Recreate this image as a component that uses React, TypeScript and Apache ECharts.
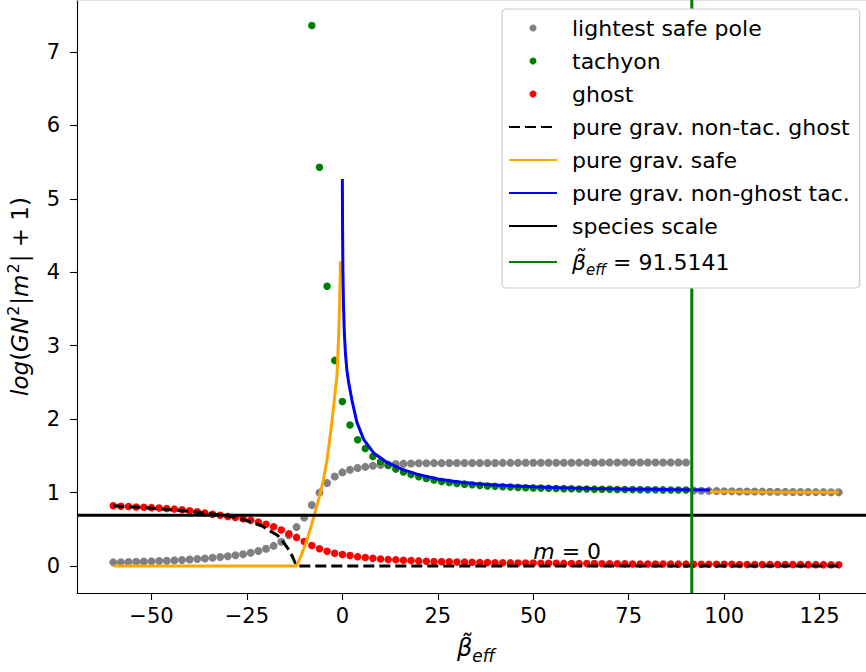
import { useEffect, useRef } from "react";
import * as echarts from "echarts";

// Axis extents and ticks
const X_MIN = -69.5;
const X_MAX = 139.5;
const Y_MIN = -0.367;
const Y_MAX = 7.707;
const xTicks = [-50, -25, 0, 25, 50, 75, 100, 125];
const yTicks = [0, 1, 2, 3, 4, 5, 6, 7];

const betaEff = 91.5141;
const speciesScale = 0.693;
const mZeroAt = [50, 0.1];

// lightest safe pole (gray dots)
const safePole = [
  [-60, 0.05], [-58, 0.052], [-56, 0.055], [-54, 0.058], [-52, 0.061], [-50, 0.064],
  [-48, 0.068], [-46, 0.072], [-44, 0.077], [-42, 0.082], [-40, 0.088], [-38, 0.095],
  [-36, 0.103], [-34, 0.112], [-32, 0.122], [-30, 0.133], [-28, 0.146], [-26, 0.161],
  [-24, 0.18], [-22, 0.205], [-20, 0.235], [-18, 0.275], [-16, 0.33], [-14, 0.42],
  [-12, 0.53], [-10, 0.66], [-8, 0.83], [-6, 1.0], [-4, 1.13], [-2, 1.22],
  [0, 1.275], [2, 1.31], [4, 1.335], [6, 1.35], [8, 1.365], [10, 1.375],
  [12, 1.383], [14, 1.39], [16, 1.394], [18, 1.397], [20, 1.4], [22, 1.4],
  [24, 1.401], [26, 1.401], [28, 1.402], [30, 1.402], [32, 1.403], [34, 1.403],
  [36, 1.404], [38, 1.404], [40, 1.404], [42, 1.405], [44, 1.405], [46, 1.405],
  [48, 1.406], [50, 1.406], [52, 1.406], [54, 1.407], [56, 1.407], [58, 1.407],
  [60, 1.407], [62, 1.408], [64, 1.408], [66, 1.408], [68, 1.408], [70, 1.409],
  [72, 1.409], [74, 1.409], [76, 1.409], [78, 1.409], [80, 1.41], [82, 1.41],
  [84, 1.41], [86, 1.41], [88, 1.41], [90, 1.41],
  [92, 1.028], [94, 1.025], [96, 1.023], [98, 1.021], [100, 1.019], [102, 1.018],
  [104, 1.016], [106, 1.015], [108, 1.014], [110, 1.013], [112, 1.012], [114, 1.011],
  [116, 1.01], [118, 1.009], [120, 1.008], [122, 1.007], [124, 1.006], [126, 1.006],
  [128, 1.005], [130, 1.004],
];

// tachyon (green dots)
const tachyon = [
  [-8, 7.36], [-6, 5.43], [-4, 3.81], [-2, 2.8], [0, 2.24], [2, 1.92], [4, 1.72],
  [6, 1.6], [8, 1.49], [10, 1.42], [12, 1.37], [14, 1.32], [16, 1.28], [18, 1.245],
  [20, 1.215], [22, 1.192], [24, 1.17], [26, 1.152], [28, 1.137], [30, 1.125],
  [32, 1.115], [34, 1.106], [36, 1.098], [38, 1.091], [40, 1.085], [42, 1.08],
  [44, 1.075], [46, 1.071], [48, 1.067], [50, 1.064], [52, 1.061], [54, 1.058],
  [56, 1.056], [58, 1.054], [60, 1.052], [62, 1.05], [64, 1.048], [66, 1.047],
  [68, 1.045], [70, 1.044], [72, 1.043], [74, 1.042], [76, 1.041], [78, 1.04],
  [80, 1.039], [82, 1.038], [84, 1.037], [86, 1.036], [88, 1.036], [90, 1.035],
];

// ghost (red dots)
const ghost = [
  [-60, 0.82], [-58, 0.815], [-56, 0.81], [-54, 0.805], [-52, 0.8], [-50, 0.795],
  [-48, 0.79], [-46, 0.783], [-44, 0.775], [-42, 0.765], [-40, 0.752], [-38, 0.738],
  [-36, 0.722], [-34, 0.706], [-32, 0.69], [-30, 0.675], [-28, 0.66], [-26, 0.643],
  [-24, 0.622], [-22, 0.598], [-20, 0.57], [-18, 0.535], [-16, 0.49], [-14, 0.44],
  [-12, 0.39], [-10, 0.335], [-8, 0.28], [-6, 0.235], [-4, 0.2], [-2, 0.175],
  [0, 0.157], [2, 0.143], [4, 0.128], [6, 0.117], [8, 0.105], [10, 0.097],
  [12, 0.09], [14, 0.085], [16, 0.08], [18, 0.074], [20, 0.07], [22, 0.066],
  [24, 0.063], [26, 0.06], [28, 0.057], [30, 0.055], [32, 0.053], [34, 0.051],
  [36, 0.049], [38, 0.047], [40, 0.046], [42, 0.044], [44, 0.043], [46, 0.042],
  [48, 0.041], [50, 0.04], [52, 0.039], [54, 0.038], [56, 0.037], [58, 0.036],
  [60, 0.035], [62, 0.034], [64, 0.033], [66, 0.033], [68, 0.032], [70, 0.031],
  [72, 0.031], [74, 0.03], [76, 0.029], [78, 0.029], [80, 0.028], [82, 0.028],
  [84, 0.027], [86, 0.027], [88, 0.026], [90, 0.026], [92, 0.025], [94, 0.025],
  [96, 0.024], [98, 0.024], [100, 0.023], [102, 0.023], [104, 0.022], [106, 0.022],
  [108, 0.022], [110, 0.021], [112, 0.021], [114, 0.021], [116, 0.02], [118, 0.02],
  [120, 0.02], [122, 0.019], [124, 0.019], [126, 0.019], [128, 0.018], [130, 0.018],
];

// pure grav. non-tac. ghost (dashed black)
const pureGhost = [
  [-60, 0.82], [-55, 0.805], [-50, 0.787], [-45, 0.765], [-40, 0.745], [-35, 0.715],
  [-30, 0.68], [-27, 0.65], [-24, 0.6], [-21, 0.545], [-19, 0.48], [-17, 0.42],
  [-15.5, 0.33], [-14, 0.22], [-13, 0.12], [-12, 0], [130, 0],
];

// pure grav. safe (orange), two branches
const pureSafeLeft = [
  [-60, 0], [-12, 0], [-11, 0.12], [-10, 0.25], [-9, 0.4], [-8, 0.57], [-7, 0.76],
  [-6, 0.95], [-5, 1.16], [-4, 1.45], [-3, 1.85], [-2.3, 2.17], [-1.4, 2.6],
  [-1, 3.1], [-0.7, 3.6], [-0.5, 4.15],
];
const pureSafeRight = [
  [96.3, 1.012], [100, 1.011], [110, 1.008], [120, 1.006], [130, 1.004],
];

// pure grav. non-ghost tac. (blue)
const pureTac = [
  [0, 5.27], [0.05, 4.6], [0.15, 4.0], [0.3, 3.55], [0.5, 3.2], [0.8, 2.9],
  [1.2, 2.66], [1.65, 2.5], [2.5, 2.26], [3.8, 1.96], [5.6, 1.72], [8.2, 1.54],
  [11.7, 1.41], [16, 1.31], [20, 1.245], [25, 1.185], [30, 1.148], [35, 1.122],
  [40, 1.103], [45, 1.089], [50, 1.078], [55, 1.069], [60, 1.062], [65, 1.056],
  [70, 1.051], [75, 1.047], [80, 1.044], [85, 1.041], [90, 1.039], [96.3, 1.036],
];

const FONT = "DejaVu Sans";
const betaName = "beta_eff";
const legendNames = [
  "lightest safe pole",
  "tachyon",
  "ghost",
  "pure grav. non-tac. ghost",
  "pure grav. safe",
  "pure grav. non-ghost tac.",
  "species scale",
];

export default function App() {
  const ref = useRef<HTMLDivElement>(null);

  useEffect(() => {
    const chart = echarts.init(ref.current!, null, { renderer: "svg" });
    const lineSeries = (name: string, data: number[][], color: string, type: any = "solid") => ({
      name,
      type: "line",
      data,
      symbol: "none",
      silent: true,
      lineStyle: { color, width: 3, type },
      itemStyle: { color, opacity: 0 },
      emphasis: { disabled: true },
    });
    const scatter = (name: string, data: number[][], color: string, size: number) => ({
      name,
      type: "scatter",
      data,
      symbolSize: size,
      silent: true,
      itemStyle: { color, opacity: 1 },
      emphasis: { disabled: true },
    });
    const legendText = {
      fontSize: 22,
      color: "#000",
      fontFamily: FONT,
      padding: [0, 0, 0, 10],
      rich: {
        b: { fontSize: 22, fontStyle: "italic", fontFamily: FONT, lineHeight: 30, color: "#000" },
        s: { fontSize: 15, fontStyle: "italic", fontFamily: FONT, lineHeight: 15, verticalAlign: "bottom", color: "#000" },
        n: { fontSize: 22, fontFamily: FONT, lineHeight: 30, color: "#000" },
      },
    };
    const plainRich = (italic: boolean) => ({
      fontSize: 22,
      fontStyle: italic ? "italic" : "normal",
      fontFamily: FONT,
      color: "#000",
      textBorderWidth: 0,
      textBorderColor: "transparent",
      opacity: 1,
    });

    chart.setOption({
      animation: false,
      textStyle: { fontFamily: FONT },
      grid: { left: 77, right: -9, top: 0, bottom: 79, outerBoundsMode: "none" },
      xAxis: [
        {
          type: "value",
          min: X_MIN,
          max: X_MAX,
          position: "bottom",
          axisLine: { show: true, onZero: false, lineStyle: { color: "#000", width: 1.1 } },
          axisTick: { show: true, length: 7, customValues: xTicks, lineStyle: { color: "#000", width: 1.1 } },
          axisLabel: {
            customValues: xTicks,
            margin: 12,
            fontSize: 21,
            color: "#000",
            fontFamily: FONT,
            formatter: (v: number) => String(v).replace("-", "\u2212"),
          },
          splitLine: { show: false },
          name: "{b|\u03B2\u0303}{s|eff}",
          nameLocation: "middle",
          nameGap: 39,
          nameTextStyle: {
            rich: {
              b: { fontSize: 24, fontStyle: "italic", fontFamily: FONT, lineHeight: 32, color: "#000" },
              s: { fontSize: 17, fontStyle: "italic", fontFamily: FONT, lineHeight: 16, verticalAlign: "bottom", color: "#000" },
            },
          },
        },
        {
          type: "value",
          min: X_MIN,
          max: X_MAX,
          position: "top",
          axisLine: { show: true, onZero: false, lineStyle: { color: "#d8d8d8", width: 1.5 } },
          axisTick: { show: false },
          axisLabel: { show: false },
          splitLine: { show: false },
        },
      ],
      yAxis: {
        type: "value",
        min: Y_MIN,
        max: Y_MAX,
        axisLine: { show: true, onZero: false, lineStyle: { color: "#000", width: 1.1 } },
        axisTick: { show: true, length: 7, customValues: yTicks, lineStyle: { color: "#000", width: 1.1 } },
        axisLabel: { customValues: yTicks, margin: 17, fontSize: 21, color: "#000", fontFamily: FONT },
        splitLine: { show: false },
        name: "{i|log}{n|(}{i|GN}{p|2}{n||}{i|m}{p|2}{n|| + 1)}",
        nameLocation: "middle",
        nameRotate: 90,
        nameGap: 42,
        nameTextStyle: {
          rich: {
            i: { fontSize: 23, fontStyle: "italic", fontFamily: FONT, lineHeight: 30, color: "#000" },
            n: { fontSize: 23, fontFamily: FONT, lineHeight: 30, color: "#000" },
            p: { fontSize: 16, fontFamily: FONT, lineHeight: 18, verticalAlign: "top", color: "#000", padding: [0, 1, 0, 1] },
          },
        },
      },
      legend: [
        {
          data: legendNames,
          orient: "vertical",
          left: 502,
          top: 9,
          itemWidth: 48,
          itemHeight: 7,
          itemGap: 11,
          padding: [8, 10, 51, 6],
          backgroundColor: "#ffffff",
          borderColor: "#cccccc",
          borderWidth: 1.2,
          borderRadius: 4,
          selectedMode: false,
          z: 20,
          textStyle: legendText,
        },
        {
          data: [betaName],
          orient: "vertical",
          left: 502,
          top: 251,
          itemWidth: 48,
          itemHeight: 7,
          padding: [0, 0, 0, 6],
          selectedMode: false,
          z: 21,
          textStyle: legendText,
          formatter: () => `{b|\u03B2\u0303}{s|eff}{n| = ${betaEff}}`,
        },
      ],
      series: [
        scatter("lightest safe pole", safePole, "#808080", 8),
        scatter("tachyon", tachyon, "#008000", 7.5),
        scatter("ghost", ghost, "#ff0000", 7.5),
        lineSeries("pure grav. non-tac. ghost", pureGhost, "#000000", [11, 5]),
        lineSeries("pure grav. safe", pureSafeLeft, "#ffa500"),
        lineSeries("pure grav. safe", pureSafeRight, "#ffa500"),
        lineSeries("pure grav. non-ghost tac.", pureTac, "#0000ff"),
        lineSeries("species scale", [[X_MIN, speciesScale], [X_MAX, speciesScale]], "#000000"),
        lineSeries(betaName, [[betaEff, Y_MIN], [betaEff, Y_MAX]], "#008000"),
        {
          name: "m0",
          type: "scatter",
          data: [mZeroAt],
          symbolSize: 0,
          silent: true,
          z: 10,
          itemStyle: { color: "#000" },
          label: {
            show: true,
            position: [0, 4],
            align: "left",
            verticalAlign: "bottom",
            color: "#000",
            textBorderWidth: 0,
            textBorderColor: "transparent",
            formatter: "{i|m}{n| = 0}",
            rich: { i: plainRich(true), n: plainRich(false) },
          },
        },
      ],
    });
    return () => chart.dispose();
  }, []);

  return (
    <div
      ref={ref}
      style={{ position: "absolute", left: 0, top: 0, width: 866, height: 672, background: "#fff" }}
    />
  );
}
